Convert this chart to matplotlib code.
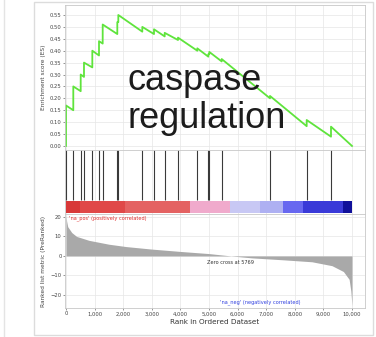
"""GSEA-style enrichment plot for the caspase regulation gene set."""

import matplotlib
matplotlib.use('Agg')
import matplotlib.pyplot as plt
from matplotlib.patches import Rectangle
from matplotlib.lines import Line2D
from matplotlib.ticker import FuncFormatter

# Ranks of the gene-set members (hits) in the ordered list
hit_ranks = [0, 255, 514, 629, 920, 1154, 1283, 1794, 1829, 2668,
             3077, 3451, 3916, 4591, 4976, 5010, 5444, 7133, 8416, 9266]

# Running enrichment score, vertices
es_rank = [0, 0, 255, 255, 514, 514, 629, 629, 920, 920, 1154, 1154,
           1283, 1283, 1794, 1794, 1829, 1829, 2668, 2668, 3077, 3077,
           3451, 3451, 3916, 3916, 4591, 4591, 4976, 4976, 5010, 5010,
           5444, 5444, 7133, 7133, 8416, 8416, 9266, 9266, 10000]
es_value = [0.0, 0.17, 0.15, 0.25, 0.23, 0.30, 0.29, 0.35, 0.33, 0.40,
            0.38, 0.44, 0.43, 0.51, 0.47, 0.52, 0.52, 0.55, 0.48, 0.50,
            0.47, 0.49, 0.46, 0.475, 0.445, 0.455, 0.40, 0.41, 0.375, 0.385,
            0.385, 0.395, 0.355, 0.365, 0.20, 0.21, 0.083, 0.109, 0.039, 0.081,
            0.0]

# Ranked list metric
metric_rank = [0, 20, 60, 200, 370, 800, 1500, 2100, 3000, 4000, 5000, 5769,
               6500, 7600, 8600, 9300, 9700, 9900, 9960, 10000]
metric_value = [21.0, 18.0, 15.0, 12.0, 10.0, 8.0, 6.0, 4.8, 3.5, 2.3, 1.2, 0.0,
                -1.0, -2.0, -3.0, -5.0, -8.0, -12.0, -18.0, -25.5]

# Heat bar segments along the ranked list
bar_edges = [0, 490, 2063, 4336, 5734, 6783, 7587, 8287, 9685, 10000]
bar_colors = ['#d83838', '#e04848', '#e46262', '#f0aacc', '#c8c8f4',
              '#aeb0f2', '#6868f0', '#3a3ad8', '#10109a']

zero_cross = 5769
set_name = 'caspase\nregulation'

W, H = 376, 337
fig = plt.figure(figsize=(W / 100, H / 100), dpi=100, facecolor='white')


def px_axes(left, top, right, bottom):
    return fig.add_axes([left / W, 1 - bottom / H, (right - left) / W, (bottom - top) / H])


# outer panel frame
fig.patches.append(Rectangle((34 / W, 2 / H), 339 / W, 333 / H, transform=fig.transFigure,
                             facecolor='none', edgecolor='#dcdcdc', lw=1.0))
fig.lines.append(Line2D([4 / W, 4 / W], [0, 1], transform=fig.transFigure,
                        color='#e4e4e4', lw=1.0))

XMIN, XMAX = -35, 10455
grid_kw = dict(color='#e6e6e6', lw=0.5)
spine_col = '#c8c8c8'
tick_kw = dict(labelsize=3.8, length=1.5, width=0.4, pad=1, colors='#444444')


def style(ax):
    for s in ax.spines.values():
        s.set_color(spine_col)
        s.set_linewidth(0.6)
    ax.set_xlim(XMIN, XMAX)
    ax.set_xticks(range(0, 10001, 1000))


# --- enrichment score panel
ax_es = px_axes(65, 5, 365, 150)
style(ax_es)
ax_es.plot(es_rank, es_value, color='#5fe43c', lw=1.3)
ax_es.set_ylim(-0.017, 0.592)
ax_es.set_yticks([i * 0.05 for i in range(12)])
ax_es.yaxis.set_major_formatter(FuncFormatter(lambda v, p: f'{v:.2f}'))
ax_es.grid(True, **grid_kw)
ax_es.set_axisbelow(True)
ax_es.tick_params(axis='x', labelbottom=False, length=0)
ax_es.tick_params(axis='y', **tick_kw)
ax_es.set_ylabel('Enrichment score (ES)', fontsize=4.2, color='#444444', labelpad=3)
ax_es.text(0.207, 0.60, set_name, transform=ax_es.transAxes, ha='left', va='top',
           fontsize=26, family='Liberation Sans', color='#1c1c1c', linespacing=1.12)

# --- hits and heat bar
ax_hit = px_axes(65, 150, 365, 214)
style(ax_hit)
ax_hit.set_ylim(0, 1)
ax_hit.grid(True, axis='x', **grid_kw)
ax_hit.set_axisbelow(True)
ax_hit.vlines(hit_ranks, 0.22, 1.0, color='#3a3a3a', lw=0.8)
for i, c in enumerate(bar_colors):
    ax_hit.add_patch(Rectangle((bar_edges[i], 0.016), bar_edges[i + 1] - bar_edges[i], 0.184,
                               facecolor=c, edgecolor='none'))
ax_hit.set_yticks([])
ax_hit.tick_params(axis='x', labelbottom=False, length=0)

# --- ranked list metric
ax_rk = px_axes(65, 214, 365, 308)
style(ax_rk)
ax_rk.fill_between(metric_rank, metric_value, 0, color='#a9a9a9', lw=0)
ax_rk.set_ylim(-26.7, 21.5)
ax_rk.set_yticks([20, 10, 0, -10, -20])
ax_rk.grid(True, **grid_kw)
ax_rk.set_axisbelow(True)
ax_rk.tick_params(axis='both', **tick_kw)
ax_rk.xaxis.set_major_formatter(FuncFormatter(lambda v, p: f'{int(v):,}'))
ax_rk.set_xlabel('Rank in Ordered Dataset', fontsize=5.2, color='#333333', labelpad=2)
ax_rk.set_ylabel('Ranked list metric (PreRanked)', fontsize=4.2, color='#444444', labelpad=3)
ax_rk.text(100, 19.5, "'na_pos' (positively correlated)", fontsize=3.6, color='#e03030',
           va='center')
ax_rk.text(zero_cross, -3.6, f'Zero cross at {zero_cross}', fontsize=3.6, color='#333333',
           ha='center', va='center')
ax_rk.text(5400, -23.5, "'na_neg' (negatively correlated)", fontsize=3.6, color='#3040e0',
           va='center')

fig.savefig('out.png', dpi=100, facecolor=fig.get_facecolor())
